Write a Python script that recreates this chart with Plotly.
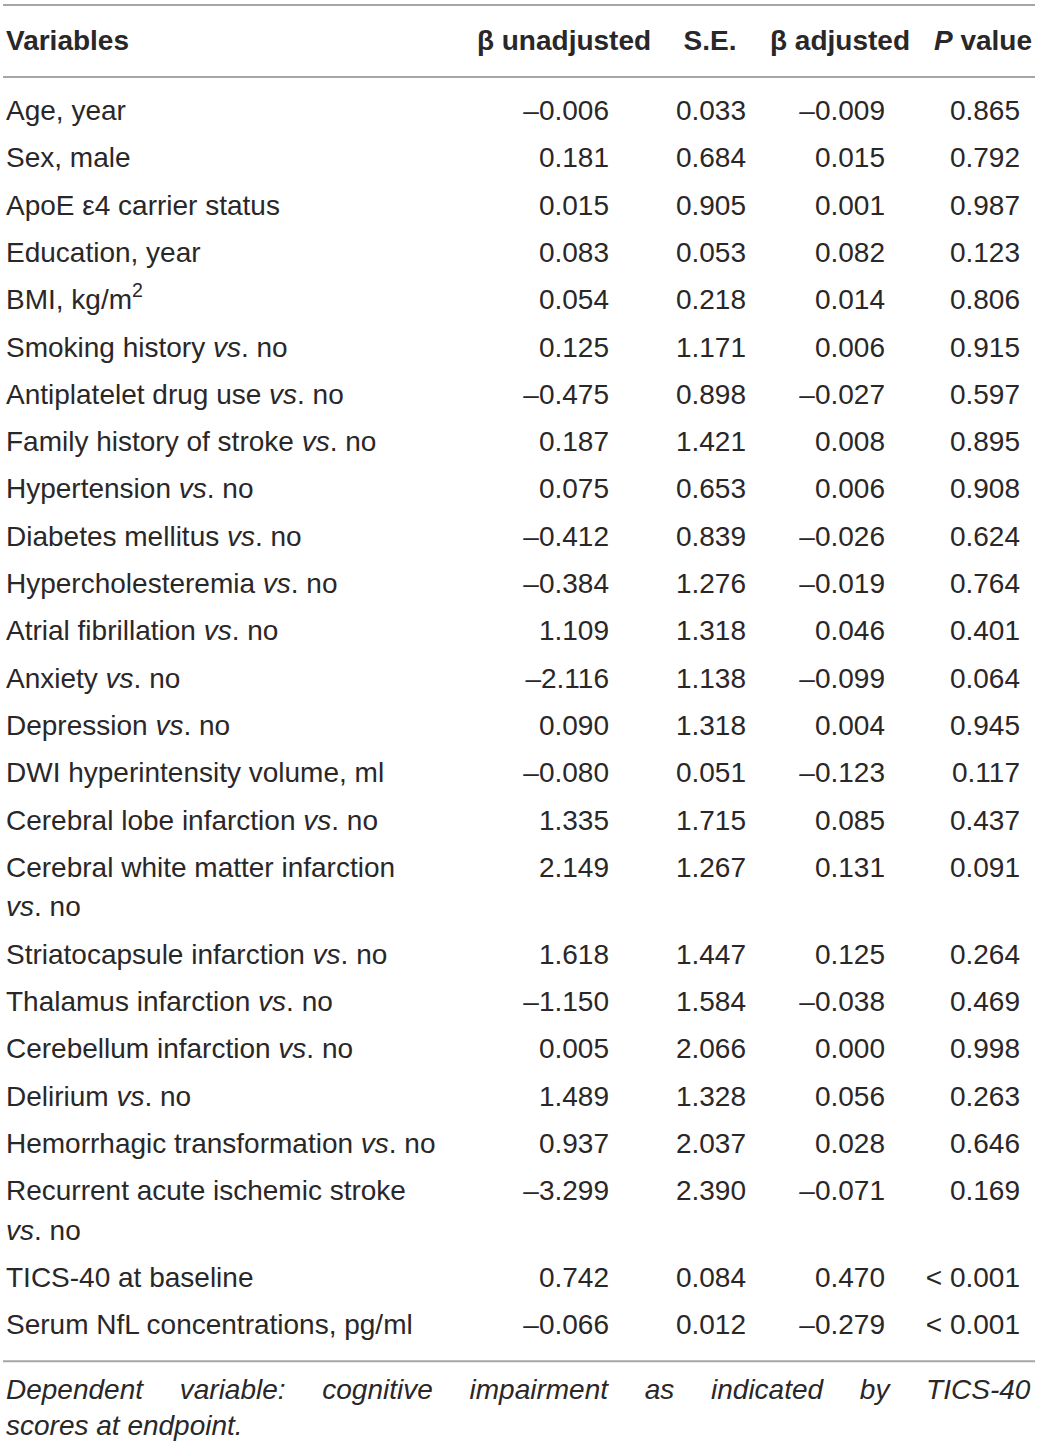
import plotly.graph_objects as go

# table content
variables = [
    "Age, year",
    "Sex, male",
    "ApoE ε4 carrier status",
    "Education, year",
    "BMI, kg/m<sup>2</sup>",
    "Smoking history <i>vs</i>. no",
    "Antiplatelet drug use <i>vs</i>. no",
    "Family history of stroke <i>vs</i>. no",
    "Hypertension <i>vs</i>. no",
    "Diabetes mellitus <i>vs</i>. no",
    "Hypercholesteremia <i>vs</i>. no",
    "Atrial fibrillation <i>vs</i>. no",
    "Anxiety <i>vs</i>. no",
    "Depression <i>vs</i>. no",
    "DWI hyperintensity volume, ml",
    "Cerebral lobe infarction <i>vs</i>. no",
    "Cerebral white matter infarction<br><i>vs</i>. no",
    "Striatocapsule infarction <i>vs</i>. no",
    "Thalamus infarction <i>vs</i>. no",
    "Cerebellum infarction <i>vs</i>. no",
    "Delirium <i>vs</i>. no",
    "Hemorrhagic transformation <i>vs</i>. no",
    "Recurrent acute ischemic stroke<br><i>vs</i>. no",
    "TICS-40 at baseline",
    "Serum NfL concentrations, pg/ml",
]
beta_unadjusted = [-0.006, 0.181, 0.015, 0.083, 0.054, 0.125, -0.475, 0.187, 0.075,
                   -0.412, -0.384, 1.109, -2.116, 0.090, -0.080, 1.335, 2.149, 1.618,
                   -1.150, 0.005, 1.489, 0.937, -3.299, 0.742, -0.066]
se = [0.033, 0.684, 0.905, 0.053, 0.218, 1.171, 0.898, 1.421, 0.653, 0.839, 1.276,
      1.318, 1.138, 1.318, 0.051, 1.715, 1.267, 1.447, 1.584, 2.066, 1.328, 2.037,
      2.390, 0.084, 0.012]
beta_adjusted = [-0.009, 0.015, 0.001, 0.082, 0.014, 0.006, -0.027, 0.008, 0.006,
                 -0.026, -0.019, 0.046, -0.099, 0.004, -0.123, 0.085, 0.131, 0.125,
                 -0.038, 0.000, 0.056, 0.028, -0.071, 0.470, -0.279]
p_value = [0.865, 0.792, 0.987, 0.123, 0.806, 0.915, 0.597, 0.895, 0.908, 0.624, 0.764,
           0.401, 0.064, 0.945, 0.117, 0.437, 0.091, 0.264, 0.469, 0.998, 0.263, 0.646,
           0.169, "< 0.001", "< 0.001"]

headers = ["<b>Variables</b>", "<b>β unadjusted</b>", "<b>S.E.</b>",
           "<b>β adjusted</b>", "<b><i>P</i> value</b>"]
footnote = ["Dependent", "variable:", "cognitive", "impairment", "as", "indicated",
            "by", "TICS-40"]
footnote_end = "scores at endpoint."

# layout settings
FONT = "Liberation Sans"
SIZE = 28
INK = "#2a2728"
RULE = "#a6a6a6"
HEADER_Y = 43
FIRST_ROW = 113
ROW_STEP = 47.3
WRAP_STEP = 39.5
LABEL_X = 6
value_right = [609, 746, 885, 1020]
header_center = [564, 710, 840, 983]


def fmt(v):
    if isinstance(v, str):
        return v
    return f"{v:.3f}".replace("-", "\u2013")


# row positions follow from how many lines each label takes
row_y = []
y = FIRST_ROW
for lab in variables:
    row_y.append(y)
    y += ROW_STEP + lab.count("<br>") * WRAP_STEP
table_bottom = row_y[-1] + 34

lab_x, lab_y, lab_text = [], [], []
for ry, lab in zip(row_y, variables):
    for k, part in enumerate(lab.split("<br>")):
        lab_x.append(LABEL_X)
        lab_y.append(ry + k * WRAP_STEP)
        lab_text.append(part)

txtfont = dict(family=FONT, size=SIZE, color=INK)
fig = go.Figure()

fig.add_trace(go.Scatter(x=lab_x, y=lab_y, text=lab_text, mode="text",
                         textposition="middle right", textfont=txtfont,
                         hoverinfo="skip", cliponaxis=False))

for col, xr in zip([beta_unadjusted, se, beta_adjusted, p_value], value_right):
    fig.add_trace(go.Scatter(x=[xr] * len(col), y=row_y, text=[fmt(v) for v in col],
                             mode="text", textposition="middle left", textfont=txtfont,
                             hoverinfo="skip", cliponaxis=False))

# header row
fig.add_trace(go.Scatter(x=[LABEL_X], y=[HEADER_Y], text=[headers[0]], mode="text",
                         textposition="middle right", textfont=txtfont,
                         hoverinfo="skip", cliponaxis=False))
fig.add_trace(go.Scatter(x=header_center, y=[HEADER_Y] * 4, text=headers[1:], mode="text",
                         textposition="middle center", textfont=txtfont,
                         hoverinfo="skip", cliponaxis=False))

# horizontal rules
for ry in [5, 77, table_bottom]:
    fig.add_shape(type="line", xref="x", yref="y", x0=3, x1=1035, y0=ry, y1=ry,
                  line=dict(color=RULE, width=2))

# justified first line of the note: widen the word gaps
gap = "\u00a0" * 4 + "\u2009"
fig.add_annotation(xref="x", yref="y", x=LABEL_X - 2, y=table_bottom + 46,
                   xanchor="left", yanchor="middle", align="left", showarrow=False,
                   text="<i>" + gap.join(footnote) + "</i><br><i>" + footnote_end + "</i>",
                   font=txtfont)

fig.update_layout(
    width=1040, height=1448,
    margin=dict(l=0, r=0, t=0, b=0),
    paper_bgcolor="white", plot_bgcolor="white",
    showlegend=False,
    xaxis=dict(range=[0, 1040], visible=False, fixedrange=True),
    yaxis=dict(range=[1448, 0], visible=False, fixedrange=True),
)

fig.write_html("out.html", config={"displayModeBar": False},
               post_script="document.body.style.margin='0';"
                           "document.body.style.overflow='hidden';")
